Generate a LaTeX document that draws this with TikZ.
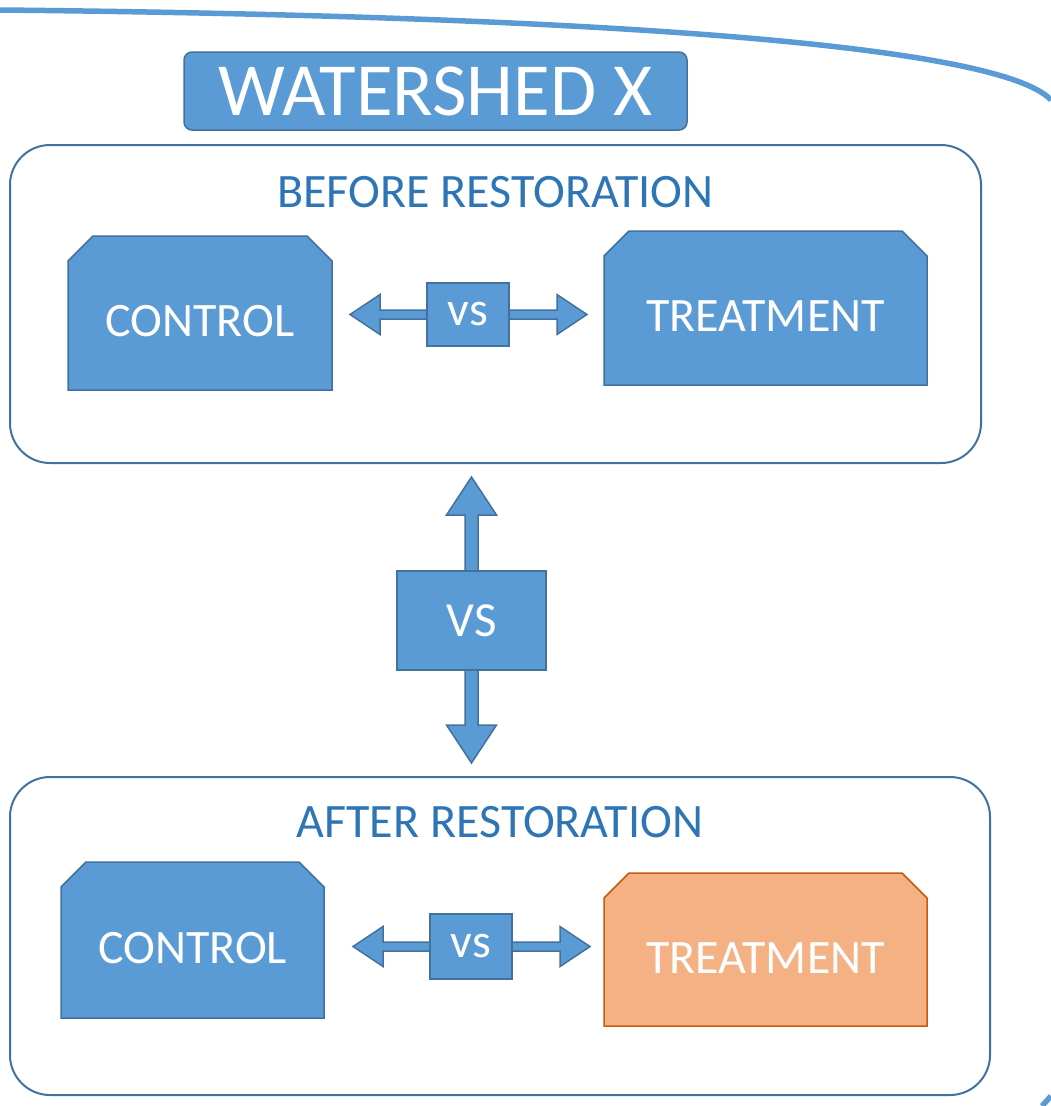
\documentclass[tikz,border=0pt]{standalone}
\usepackage{fontspec}
\setmainfont{Carlito}
\usepackage{xcolor}
\usepackage{tikz}
\usetikzlibrary{positioning,calc,shapes.misc}
\definecolor{wsblue}{HTML}{5B9BD5}
\definecolor{wsline}{HTML}{41719C}
\definecolor{wstext}{HTML}{2E75B6}
\definecolor{trt}{HTML}{F4B183}
\definecolor{trtline}{HTML}{C55A11}
\tikzset{
  rim/.style    ={draw=wsblue, line width=5.5pt},
  shedbox/.style={draw=wsline, fill=wsblue, line width=1.5pt, rounded corners=8pt,
                  text=white, inner sep=0pt, font=\fontsize{75}{80}\selectfont},
  phase/.style  ={draw=wsline, line width=2pt, rounded corners=40pt, inner sep=0pt},
  ttl/.style    ={text=wstext, inner sep=0pt, font=\fontsize{48}{52}\selectfont},
  snip/.style   ={chamfered rectangle, chamfered rectangle corners={north west,north east},
                  chamfered rectangle xsep=12.5pt, chamfered rectangle ysep=12.5pt,
                  draw=wsline, fill=wsblue, line width=1.5pt, text=white, inner sep=0pt,
                  text height=47pt, text depth=0pt, font=\fontsize{48}{52}\selectfont},
  snipacc/.style={snip, draw=trtline, fill=trt},
  vsbox/.style  ={draw=wsline, fill=wsblue, line width=1.5pt, text=white, inner sep=0pt,
                  font=\fontsize{48}{52}\selectfont},
  blkar/.style  ={draw=wsline, fill=wsblue, line width=1.5pt},
}
\begin{document}
\begin{tikzpicture}[x=1pt,y=1pt]
\useasboundingbox (0,0) rectangle (1051,-1106);
% outer outline, cut off by the page
\draw[rim] (0,-10) .. controls (600,-16) and (1000,-45) .. (1051,-100);
\draw[rim] (1042,-1106) -- (1051,-1096);

\node[shedbox, minimum width=503pt, minimum height=78pt] (shed) at (435.5,-91) {WATERSHED X};

% before
\node[phase, minimum width=971pt, minimum height=318pt] (before) at (495.5,-304) {};
\node[ttl, below=32pt of before.north] (beforettl) {BEFORE RESTORATION};
\node[snip, minimum width=264pt, minimum height=154pt] (ctrl1) at (200,-313) {CONTROL};
\node[snip, minimum width=323pt, minimum height=154pt] (trt1) at (765.5,-308) {TREATMENT};
\coordinate (c1) at (468,-314.5);
\coordinate (t1l) at (350,-314.5);
\coordinate (t1r) at (587,-314.5);
\draw[blkar] (t1l) -- ++(30,20) |- ($(c1)+(0,4.5)$) -| ($(t1r)+(-30,20)$) -- (t1r)
  -- ++(-30,-20) |- ($(c1)+(0,-4.5)$) -| ($(t1l)+(30,-20)$) -- cycle;
\node[vsbox, minimum width=82pt, minimum height=63pt] (vs1) at (c1) {vs};

% before vs after
\coordinate (c0) at (471.5,-620.5);
\coordinate (tu) at (471.5,-477);
\coordinate (td) at (471.5,-763);
\draw[blkar] (tu) -- ++(25,-38) -| ($(c0)+(6.5,0)$) |- ($(td)+(25,38)$) -- (td)
  -- ++(-25,38) -| ($(c0)+(-6.5,0)$) |- ($(tu)+(-25,-38)$) -- cycle;
\node[vsbox, minimum width=149pt, minimum height=99pt, font=\fontsize{49}{53}\selectfont] (vs0) at (c0) {VS};

% after
\node[phase, minimum width=980pt, minimum height=318pt] (after) at (500,-936) {};
\node[ttl, below=30pt of after.north] (afterttl) {AFTER RESTORATION};
\node[snip, minimum width=263pt, minimum height=156pt] (ctrl2) at (192.5,-940) {CONTROL};
\node[snipacc, minimum width=323pt, minimum height=153pt] (trt2) at (765.5,-949.5) {TREATMENT};
\coordinate (c2) at (471,-946.5);
\coordinate (t2l) at (353,-946.5);
\coordinate (t2r) at (590,-946.5);
\draw[blkar] (t2l) -- ++(30,20) |- ($(c2)+(0,4.5)$) -| ($(t2r)+(-30,20)$) -- (t2r)
  -- ++(-30,-20) |- ($(c2)+(0,-4.5)$) -| ($(t2l)+(30,-20)$) -- cycle;
\node[vsbox, minimum width=82pt, minimum height=65pt] (vs2) at (c2) {vs};
\end{tikzpicture}
\end{document}
